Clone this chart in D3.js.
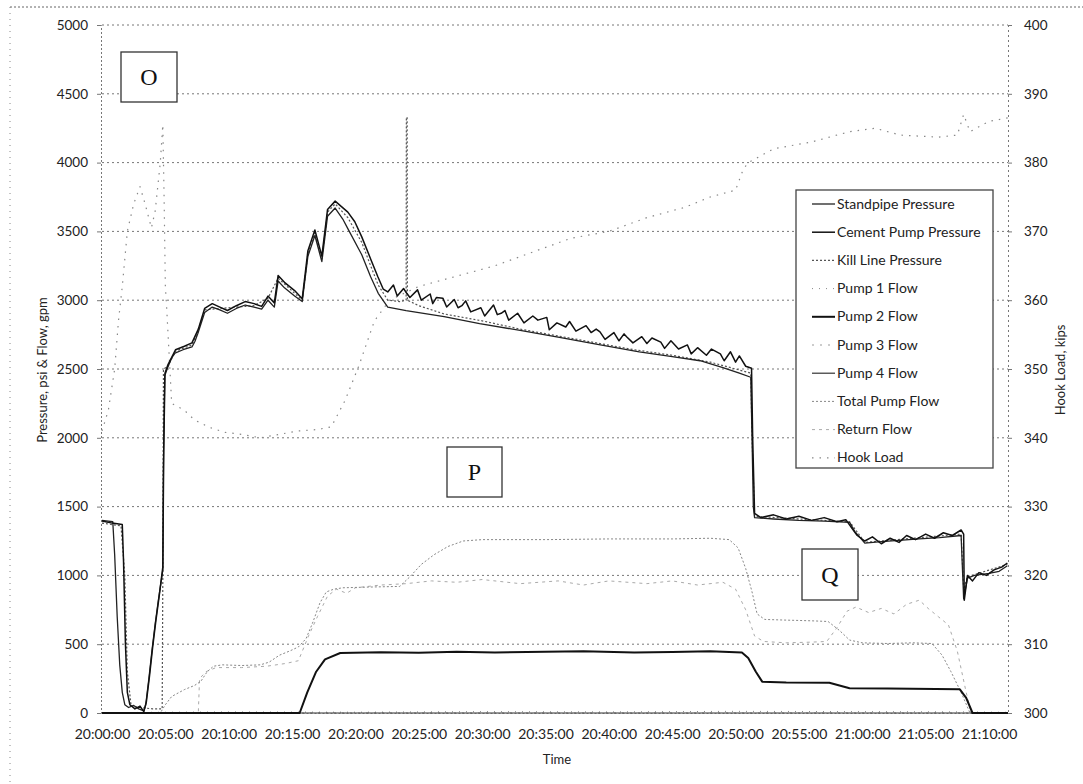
<!DOCTYPE html>
<html><head><meta charset="utf-8">
<script src="https://cdn.jsdelivr.net/npm/d3@7"></script>
<style>body{margin:0;background:#fff;} svg{display:block;font-family:Lato, "Open Sans", sans-serif;}</style>
</head><body><svg id="c" width="1083" height="784"></svg>
<script>
// ---------- DATA ----------
const timeTicks = [0,5,10,15,20,25,30,35,40,45,50,55,60,65,70]; // minutes after 20:00:00
const timeLabels = ["20:00:00","20:05:00","20:10:00","20:15:00","20:20:00","20:25:00","20:30:00","20:35:00","20:40:00","20:45:00","20:50:00","20:55:00","21:00:00","21:05:00","21:10:00"];
const leftTicks = [0,500,1000,1500,2000,2500,3000,3500,4000,4500,5000];
const rightTicks = [300,310,320,330,340,350,360,370,380,390,400];
const seriesNames = ["Standpipe Pressure","Cement Pump Pressure","Kill Line Pressure","Pump 1 Flow","Pump 2 Flow","Pump 3 Flow","Pump 4 Flow","Total Pump Flow","Return Flow","Hook Load"];
const boxLabels = ["O","P","Q"];

const standpipePressure = [[0,1400],[0.5,1395],[0.85,1390],[1.0,1150],[1.2,700],[1.4,350],[1.6,150],[1.8,60],[2.1,40],[2.5,55],[2.9,30],[3.3,15],[3.45,60],[3.7,250],[3.95,460],[4.2,650],[4.45,820],[4.8,1040],[4.85,1800],[4.95,2450],[5.2,2515],[5.5,2580],[5.76,2616],[6.4,2640],[7.1,2660],[7.33,2700],[7.57,2760],[8.1,2910],[8.7,2950],[9.3,2930],[9.9,2905],[10.6,2940],[11.3,2965],[12.0,2950],[12.6,2935],[13.1,3000],[13.6,2950],[13.9,3140],[14.4,3090],[15.2,3030],[15.8,2990],[16.25,3320],[16.8,3470],[17.35,3280],[17.8,3610],[18.4,3670],[19.0,3590],[19.4,3520],[20.5,3330],[21.2,3170],[21.8,3050],[22.55,2950],[24.0,2925],[27,2880],[29.8,2830],[33,2780],[36.1,2730],[39,2680],[42.4,2625],[45,2590],[47.2,2560],[49,2510],[50.3,2470],[51.2,2440],[51.3,2000],[51.4,1500],[51.5,1420],[53,1410],[55,1400],[57,1395],[59,1385],[59.4,1320],[60.2,1235],[61.5,1245],[62.9,1255],[64.5,1265],[66.1,1275],[67.8,1290],[68.0,830],[68.3,980],[68.85,1000],[70,1015],[70.8,1030],[71.45,1070]];

const cementPumpPressure = [[0,1395],[0.8,1380],[1.6,1370],[1.7,1100],[1.85,500],[2.0,150],[2.2,60],[2.6,30],[3.0,50],[3.3,10],[3.5,80],[3.75,270],[4.0,480],[4.25,670],[4.5,840],[4.8,1060],[4.87,1900],[4.97,2470],[5.2,2530],[5.8,2640],[6.5,2665],[7.1,2690],[7.6,2790],[8.1,2940],[8.7,2975],[9.3,2950],[9.9,2925],[10.6,2960],[11.3,2990],[12.0,2975],[12.6,2955],[13.1,3030],[13.6,2980],[13.9,3180],[14.4,3130],[15.2,3070],[15.8,3010],[16.25,3360],[16.8,3510],[17.35,3320],[17.8,3660],[18.4,3720],[18.9,3680],[19.4,3640],[19.95,3570],[20.5,3460],[21.2,3300],[21.77,3170],[22.2,3080],[22.55,3060],[23.0,3110],[23.3,3030],[23.8,3085],[24.05,3050],[24.3,3020],[24.9,3075],[25.2,3000],[25.9,3045],[26.1,2975],[26.4,3020],[26.9,3015],[27.2,2950],[27.8,3005],[28.1,2945],[28.4,2960],[28.7,2995],[29.1,2915],[29.9,2945],[30.2,2885],[30.9,2965],[31.2,2895],[31.5,2905],[31.8,2925],[32.1,2855],[32.8,2905],[33.3,2835],[34.0,2885],[34.4,2855],[35.1,2875],[35.3,2785],[35.9,2835],[36.6,2805],[36.9,2845],[37.4,2775],[38.2,2815],[38.6,2765],[39.0,2790],[39.3,2770],[39.7,2715],[40.4,2765],[40.8,2705],[41.2,2755],[41.4,2735],[41.9,2690],[42.6,2735],[43.0,2685],[43.4,2725],[44.1,2695],[44.4,2650],[44.9,2705],[45.5,2645],[46.2,2675],[46.5,2610],[47.0,2655],[47.7,2600],[48.1,2645],[48.8,2610],[49.1,2560],[49.6,2625],[50.0,2550],[50.3,2595],[50.8,2520],[51.26,2505],[51.35,2000],[51.5,1450],[52,1420],[53,1440],[54,1410],[55,1430],[56,1400],[57,1420],[58,1390],[58.7,1405],[59.2,1340],[59.6,1290],[60.2,1250],[60.8,1280],[61.5,1230],[62.2,1270],[62.9,1240],[63.5,1290],[64.2,1260],[65,1300],[65.7,1270],[66.4,1310],[67.1,1290],[67.8,1330],[68.0,1300],[68.05,820],[68.3,1000],[68.7,960],[69.2,1020],[69.8,1000],[70.4,1040],[71,1060],[71.45,1090]];

const killLinePressure = [[0,1380],[1.5,1360],[1.8,1000],[2.0,300],[2.3,50],[3.0,40],[4.0,30],[4.75,30],[4.8,1000],[4.85,2500],[5.2,2520],[5.8,2630],[7.1,2675],[7.6,2780],[8.1,2930],[9.3,2940],[10.6,2950],[12.0,2960],[13.1,3015],[13.9,3160],[15.2,3050],[15.8,3000],[16.25,3340],[16.8,3490],[17.35,3300],[17.8,3640],[18.4,3700],[19.4,3600],[20.5,3420],[21.2,3250],[21.8,3110],[22.55,3000],[23.5,2990],[24.0,3000],[24.02,4330],[24.08,4330],[24.1,3000],[25,2960],[27,2900],[30,2850],[33,2790],[36,2740],[39,2690],[42,2640],[45,2600],[48,2550],[51.2,2470],[51.3,2000],[51.5,1430],[55,1410],[59,1390],[60.2,1240],[64,1270],[67.8,1300],[68.0,900],[68.3,990],[71.45,1080]];

const pump1Flow = [[0,0],[3.5,5],[10,8],[20,6],[30,10],[40,8],[50,12],[60,10],[68.5,8],[71.5,5]];
const pump2Flow = [[0,0],[15.6,0],[16.2,150],[16.9,300],[17.6,390],[18.8,436],[22,442],[25,438],[28,446],[31,440],[35,445],[38,448],[42,440],[45,444],[48,448],[50.5,440],[51.0,400],[51.6,300],[52.1,228],[54,222],[57.4,220],[58.2,200],[59,180],[62,178],[67.7,172],[68.2,110],[68.7,0],[71.5,0]];
const pump3Flow = [[0,0],[71.5,0]];
const pump4Flow = [[0,0],[71.5,0]];
const totalPumpFlow = [[0,0],[4.6,0],[5.0,60],[5.5,120],[6.5,170],[7.3,200],[7.8,230],[8.3,300],[8.8,340],[9.5,350],[11,345],[12.5,350],[13.2,370],[14.0,420],[14.8,450],[15.5,480],[16.1,540],[16.6,650],[17.2,800],[17.7,880],[18.3,900],[19,910],[21,915],[23.5,920],[24.3,990],[25.2,1080],[26.2,1150],[27.3,1210],[28.5,1250],[30,1260],[35,1260],[40,1265],[45,1265],[48,1270],[49.5,1260],[50.2,1200],[50.8,1050],[51.3,880],[51.7,720],[52.3,680],[54,675],[56,670],[57.3,665],[58.2,600],[59,530],[60,510],[62,505],[64,510],[65.5,505],[66.3,420],[67,300],[67.8,150],[68.5,0],[71.5,0]];
const returnFlow = [[0,0],[7.6,0],[7.7,250],[8.2,300],[9,330],[11,330],[13,340],[14.5,360],[15.5,380],[16.3,560],[17,700],[17.8,850],[18.5,900],[19.3,870],[20,910],[22,930],[24,940],[26,960],[28,950],[30,970],[33,940],[36,960],[38,930],[40,960],[43,940],[45,960],[47,930],[49,950],[50,900],[50.8,750],[51.5,560],[52.2,520],[54,510],[56,515],[57.2,520],[58,620],[58.8,740],[59.5,770],[60.5,730],[61.5,760],[62.5,720],[63.5,790],[64.5,820],[65.2,760],[66,700],[66.8,640],[67.5,450],[68.2,150],[68.6,0],[71.5,0]];
const hookLoad = [[0,341],[0.5,344],[1.0,350],[1.3,357],[1.6,362],[2.0,370],[2.5,374],[3.0,376.5],[3.4,374],[3.9,370.5],[4.2,373],[4.6,380],[4.8,385.5],[4.9,375],[5.0,362],[5.1,359],[5.5,345],[6.5,344],[7.3,342.6],[8.5,341.5],[9.7,340.8],[11,340.5],[12.5,340],[14,340.5],[15.5,341],[17,341.2],[18.1,341.6],[19.2,345.5],[20.3,350.6],[21.5,357],[22.7,360],[25,362],[27,363],[31,365],[34,367],[37,369],[40,370],[43,372],[46,373.5],[48,375],[50,376],[50.6,379],[51,380],[53,382],[56,383],[59,384.5],[61,385],[63,384],[66,383.7],[67.5,384],[68,387],[68.5,384.5],[70,386],[71.5,386.5]];

// ---------- CHART ----------
const svg = d3.select("#c");
const x = d3.scaleLinear().domain([0, 71.5]).range([102, 1008]);
const yL = d3.scaleLinear().domain([0, 5000]).range([713, 25]);
const yR = d3.scaleLinear().domain([300, 400]).range([713, 25]);

// outer chart border
svg.append("line").attr("x1",10).attr("x2",1083).attr("y1",7).attr("y2",7).attr("stroke","#666").attr("stroke-dasharray","2,2");
svg.append("line").attr("x1",10).attr("x2",10).attr("y1",7).attr("y2",784).attr("stroke","#888").attr("stroke-dasharray","1,5");

// gridlines
svg.append("g").selectAll("line").data(leftTicks.slice(1)).join("line")
  .attr("x1",102).attr("x2",1008).attr("y1",d=>yL(d)).attr("y2",d=>yL(d))
  .attr("stroke","#777").attr("stroke-width",1).attr("stroke-dasharray","2,3");

// left axis
const gL = svg.append("g").attr("transform","translate(101,0)").call(d3.axisLeft(yL).tickValues(leftTicks).tickSize(4).tickPadding(9).tickFormat(d3.format("d")));
gL.select(".domain").attr("stroke","#777").attr("stroke-dasharray","2,2");
gL.selectAll(".tick line").attr("stroke","#777");
gL.selectAll("text").attr("font-size",13.5).attr("fill","#222").attr("font-family","Lato");

// right axis
const gR = svg.append("g").attr("transform","translate(1008,0)").call(d3.axisRight(yR).tickValues(rightTicks).tickSize(4).tickPadding(12).tickFormat(d3.format("d")));
gR.select(".domain").attr("stroke","#777").attr("stroke-dasharray","2,3");
gR.selectAll(".tick line").attr("stroke","#777");
gR.selectAll("text").attr("font-size",13.5).attr("fill","#222").attr("font-family","Lato");

// bottom axis
const gB = svg.append("g").attr("transform","translate(0,713)").call(d3.axisBottom(x).tickValues(timeTicks).tickSize(0).tickPadding(16).tickFormat((d,i)=>timeLabels[i]));
gB.select(".domain").attr("stroke","#999").attr("stroke-dasharray","2,2");
gB.selectAll("text").attr("font-size",14).attr("fill","#222").attr("font-family","Lato");

// axis titles
svg.append("text").attr("transform","translate(47,370) rotate(-90)").attr("text-anchor","middle").attr("font-size",13).attr("fill","#222").text("Pressure, psi & Flow, gpm");
svg.append("text").attr("transform","translate(1065,370) rotate(-90)").attr("text-anchor","middle").attr("font-size",13).attr("fill","#222").text("Hook Load, kips");
svg.append("text").attr("x",557).attr("y",764).attr("text-anchor","middle").attr("font-size",13).attr("fill","#222").text("Time");

// series
const styles = [
  {data:standpipePressure, axis:yL, stroke:"#222", w:1.3, dash:null},
  {data:cementPumpPressure, axis:yL, stroke:"#111", w:1.5, dash:null},
  {data:killLinePressure, axis:yL, stroke:"#555", w:1.2, dash:"2,2"},
  {data:pump1Flow, axis:yL, stroke:"#888", w:1, dash:"1,6"},
  {data:pump2Flow, axis:yL, stroke:"#111", w:2, dash:null},
  {data:pump3Flow, axis:yL, stroke:"#999", w:1, dash:"2,6"},
  {data:pump4Flow, axis:yL, stroke:"#333", w:1.2, dash:null},
  {data:totalPumpFlow, axis:yL, stroke:"#888", w:1, dash:"2,2"},
  {data:returnFlow, axis:yL, stroke:"#aaa", w:1, dash:"3,4"},
  {data:hookLoad, axis:yR, stroke:"#888", w:1.2, dash:"1.5,6"}
];
const drawOrder = [9,8,7,5,3,6,4,2,0,1];
const gS = svg.append("g");
drawOrder.forEach(i=>{
  const s = styles[i];
  const line = d3.line().x(d=>x(d[0])).y(d=>s.axis(d[1]));
  gS.append("path").attr("d",line(s.data)).attr("fill","none").attr("stroke",s.stroke)
    .attr("stroke-width",s.w).attr("stroke-dasharray",s.dash).attr("stroke-linejoin","round");
});

// legend
const lg = svg.append("g");
lg.append("rect").attr("x",796).attr("y",190).attr("width",197).attr("height",278).attr("fill","#fff").attr("stroke","#444").attr("stroke-width",1.3);
seriesNames.forEach((n,i)=>{
  const yy = 204 + i*28.2;
  const s = styles[i];
  lg.append("line").attr("x1",812).attr("x2",835).attr("y1",yy).attr("y2",yy).attr("stroke",s.stroke).attr("stroke-width",s.w).attr("stroke-dasharray",s.dash);
  lg.append("text").attr("x",837).attr("y",yy+4.5).attr("font-size",14).attr("fill","#222").text(n);
});

// annotation boxes
const boxes = [{x:121,y:52,w:56,h:50},{x:447,y:447,w:55,h:50},{x:802,y:549,w:56,h:51}];
boxes.forEach((b,i)=>{
  svg.append("rect").attr("x",b.x).attr("y",b.y).attr("width",b.w).attr("height",b.h).attr("fill","#fff").attr("stroke","#333").attr("stroke-width",1.3);
  svg.append("text").attr("x",b.x+b.w/2).attr("y",b.y+b.h/2+8).attr("text-anchor","middle").attr("font-family","'Liberation Serif', 'DejaVu Serif', serif").attr("font-size",24).attr("fill","#111").text(boxLabels[i]);
});
</script>
</body></html>
